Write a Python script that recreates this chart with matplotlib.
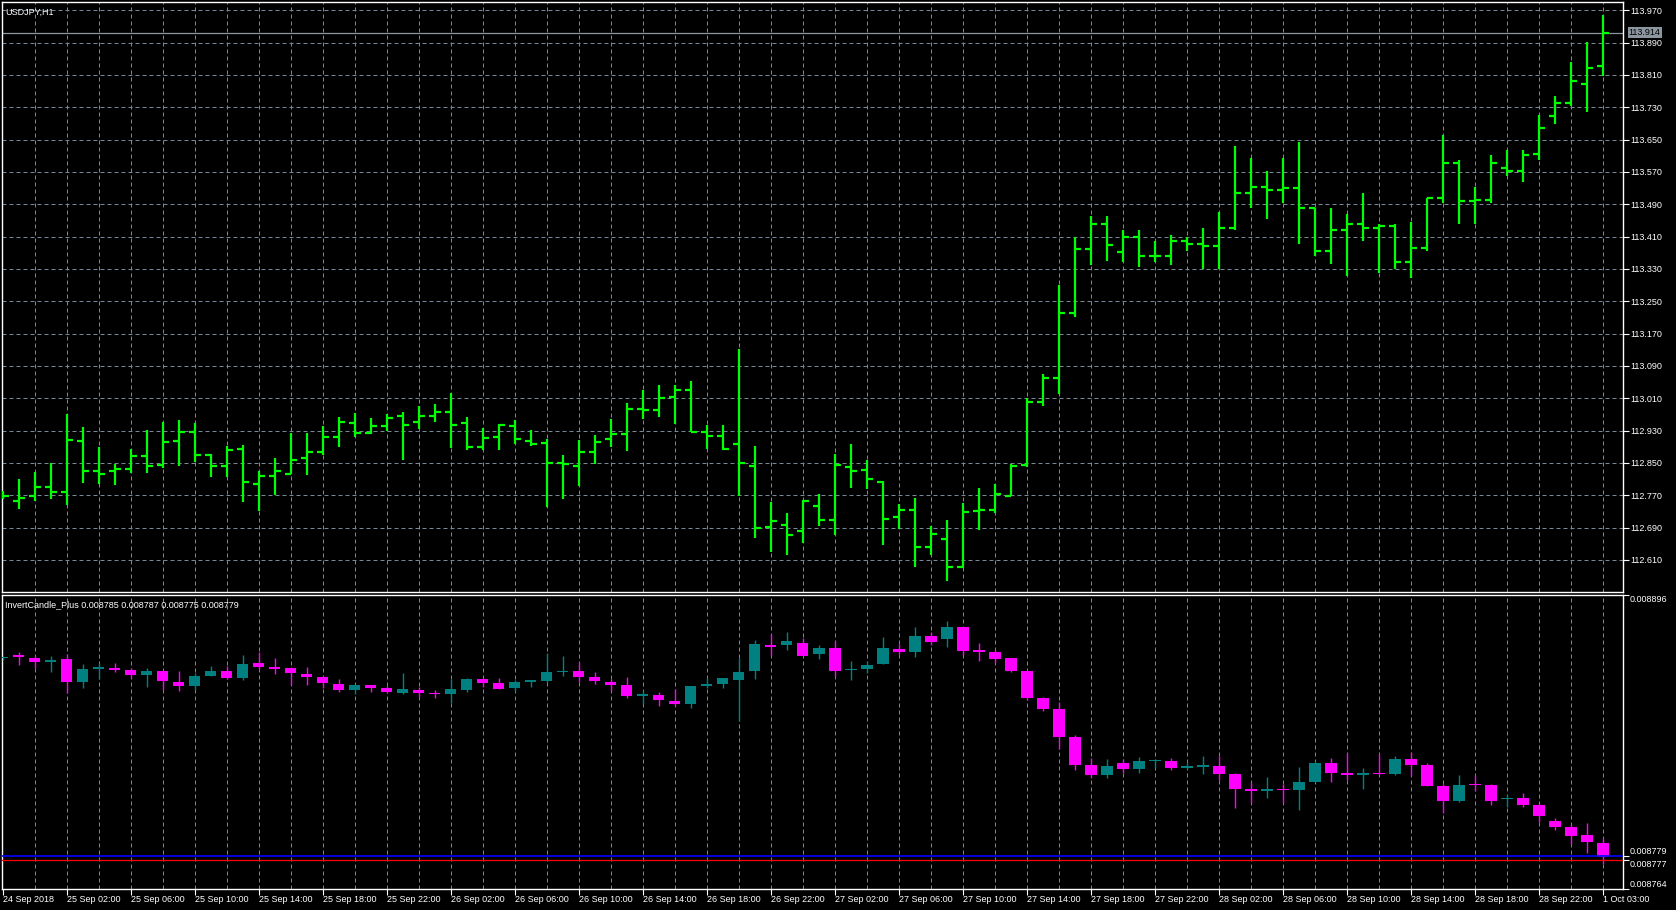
import matplotlib
matplotlib.use("Agg")
import matplotlib.pyplot as plt
import numpy as np

# USDJPY H1 bars, 24 Sep 2018 22:00 .. 1 Oct 2018 03:00
opens = [112.770, 112.757, 112.767, 112.791, 112.777, 112.905, 112.831, 112.829, 112.836, 112.867,
         112.845, 112.904, 112.927, 112.870, 112.843, 112.885, 112.798, 112.818, 112.823, 112.861,
         112.876, 112.915, 112.950, 112.925, 112.942, 112.967, 112.952, 112.967, 112.977, 112.950,
         112.890, 112.913, 112.941, 112.905, 112.899, 112.850, 112.843, 112.878, 112.908, 112.922,
         112.984, 112.981, 113.013, 113.031, 112.927, 112.917, 112.897, 112.842, 112.692, 112.696,
         112.682, 112.743, 112.709, 112.840, 112.833, 112.804, 112.715, 112.734, 112.643, 112.662,
         112.593, 112.731, 112.734, 112.768, 112.845, 113.000, 113.060, 113.220, 113.380, 113.440,
         113.371, 113.408, 113.361, 113.361, 113.400, 113.392, 113.387, 113.432, 113.519, 113.533,
         113.525, 113.530, 113.480, 113.374, 113.427, 113.440, 113.432, 113.435, 113.347, 113.382,
         113.506, 113.593, 113.498, 113.501, 113.580, 113.572, 113.615, 113.709, 113.741, 113.788,
         113.833]
highs = [112.780, 112.810, 112.828, 112.849, 112.971, 112.939, 112.890, 112.847, 112.885, 112.932,
         112.951, 112.956, 112.949, 112.871, 112.891, 112.894, 112.831, 112.862, 112.924, 112.924,
         112.942, 112.964, 112.974, 112.961, 112.971, 112.976, 112.991, 112.996, 113.024, 112.964,
         112.937, 112.946, 112.956, 112.932, 112.908, 112.869, 112.906, 112.918, 112.958, 112.998,
         113.030, 113.042, 113.042, 113.052, 112.943, 112.943, 113.131, 112.891, 112.753, 112.725,
         112.759, 112.772, 112.871, 112.896, 112.857, 112.805, 112.748, 112.764, 112.693, 112.708,
         112.750, 112.787, 112.797, 112.848, 113.011, 113.070, 113.290, 113.410, 113.460, 113.460,
         113.427, 113.427, 113.400, 113.414, 113.408, 113.432, 113.472, 113.633, 113.604, 113.572,
         113.604, 113.644, 113.480, 113.480, 113.467, 113.519, 113.440, 113.440, 113.445, 113.506,
         113.661, 113.599, 113.533, 113.612, 113.625, 113.625, 113.711, 113.758, 113.842, 113.891,
         113.959]
lows = [112.760, 112.737, 112.757, 112.760, 112.747, 112.801, 112.798, 112.796, 112.826, 112.824,
        112.838, 112.843, 112.853, 112.814, 112.816, 112.754, 112.732, 112.770, 112.822, 112.821,
        112.869, 112.890, 112.915, 112.921, 112.930, 112.857, 112.933, 112.951, 112.887, 112.883,
        112.883, 112.883, 112.896, 112.892, 112.741, 112.760, 112.792, 112.847, 112.889, 112.880,
        112.959, 112.964, 112.946, 112.927, 112.885, 112.883, 112.768, 112.664, 112.630, 112.623,
        112.652, 112.694, 112.672, 112.788, 112.786, 112.647, 112.687, 112.593, 112.621, 112.557,
        112.590, 112.685, 112.725, 112.768, 112.840, 112.990, 113.020, 113.210, 113.340, 113.350,
        113.347, 113.334, 113.347, 113.340, 113.374, 113.329, 113.329, 113.427, 113.480, 113.453,
        113.493, 113.392, 113.361, 113.342, 113.313, 113.400, 113.321, 113.329, 113.308, 113.374,
        113.493, 113.440, 113.440, 113.493, 113.559, 113.546, 113.600, 113.689, 113.733, 113.719,
        113.807]
closes = [112.767, 112.762, 112.791, 112.779, 112.907, 112.831, 112.823, 112.836, 112.867, 112.843,
          112.902, 112.927, 112.870, 112.843, 112.882, 112.803, 112.818, 112.829, 112.857, 112.878,
          112.913, 112.951, 112.925, 112.942, 112.962, 112.945, 112.967, 112.977, 112.945, 112.890,
          112.912, 112.945, 112.908, 112.897, 112.850, 112.847, 112.878, 112.902, 112.922, 112.984,
          112.981, 113.011, 113.031, 112.927, 112.917, 112.885, 112.850, 112.689, 112.707, 112.672,
          112.755, 112.709, 112.845, 112.830, 112.809, 112.712, 112.734, 112.643, 112.675, 112.593,
          112.729, 112.734, 112.774, 112.842, 113.000, 113.060, 113.220, 113.380, 113.440, 113.390,
          113.408, 113.361, 113.361, 113.400, 113.392, 113.387, 113.432, 113.519, 113.533, 113.525,
          113.530, 113.480, 113.374, 113.427, 113.440, 113.432, 113.435, 113.347, 113.382, 113.506,
          113.593, 113.498, 113.501, 113.593, 113.572, 113.612, 113.679, 113.741, 113.794, 113.828,
          113.914]

time_labels = ["24 Sep 2018", "25 Sep 02:00", "25 Sep 06:00", "25 Sep 10:00", "25 Sep 14:00",
               "25 Sep 18:00", "25 Sep 22:00", "26 Sep 02:00", "26 Sep 06:00", "26 Sep 10:00",
               "26 Sep 14:00", "26 Sep 18:00", "26 Sep 22:00", "27 Sep 02:00", "27 Sep 06:00",
               "27 Sep 10:00", "27 Sep 14:00", "27 Sep 18:00", "27 Sep 22:00", "28 Sep 02:00",
               "28 Sep 06:00", "28 Sep 10:00", "28 Sep 14:00", "28 Sep 18:00", "28 Sep 22:00",
               "1 Oct 03:00"]
price_ticks = [112.610, 112.690, 112.770, 112.850, 112.930, 113.010, 113.090, 113.170, 113.250,
               113.330, 113.410, 113.490, 113.570, 113.650, 113.730, 113.810, 113.890, 113.970]
bid = 113.914
ind_ticks = [0.008896, 0.008764]
ind_levels = [0.008779, 0.008777]

plt.rcParams['font.family'] = ['Liberation Sans', 'DejaVu Sans']
FS = 6.5
GRID = '#778899'

W, H = 1676, 910
fig = plt.figure(figsize=(W / 100, H / 100), dpi=100, facecolor='black')
ax1 = fig.add_axes([2 / W, 1 - 592 / H, 1621 / W, 590 / H])
ax2 = fig.add_axes([2 / W, 1 - 889 / H, 1621 / W, 294 / H])

x = np.arange(len(opens))
o = np.array(opens)
h = np.array(highs)
l = np.array(lows)
c = np.array(closes)

for ax in (ax1, ax2):
    ax.set_facecolor('black')
    ax.set_xlim(-0.06, 101.25)
    for s in ax.spines.values():
        s.set_color('white')
        s.set_linewidth(1.0)
    ax.tick_params(axis='y', which='both', left=False, right=True, labelleft=False,
                   labelright=True, colors='white', labelsize=FS, length=4, width=0.8, pad=1)
    for gx in range(2, 101, 2):
        ax.axvline(gx, color=GRID, lw=0.72, dashes=(4, 3), zorder=0)

# ---- price panel (OHLC bars) ----
ax1.set_ylim(112.5306, 113.9905)
for py in price_ticks:
    ax1.axhline(py, color=GRID, lw=0.72, dashes=(4, 3), zorder=0)
ax1.axhline(bid, color='#8c96a0', lw=0.9, zorder=1)
green = '#00ff00'
ax1.vlines(x, l, h, color=green, lw=1.6, zorder=3)
ax1.hlines(o, x - 0.38, x, color=green, lw=1.6, zorder=3)
ax1.hlines(c, x, x + 0.38, color=green, lw=1.6, zorder=3)
ax1.set_yticks(price_ticks)
ax1.set_yticklabels([f"{p:.3f}" for p in price_ticks])
ax1.set_xticks([])
ax1.text(1.0035, bid, f"{bid:.3f}", transform=ax1.get_yaxis_transform(),
         color='black', fontsize=FS, va='center', ha='left', zorder=5,
         bbox=dict(boxstyle='square,pad=0.12', fc='#8c96a0', ec='none'))
ax1.text(3 / 1621, 1 - 6 / 590, "USDJPY,H1", transform=ax1.transAxes, color='white',
         fontsize=FS, va='top', ha='left')

# ---- inverted candle panel ----
io, ih, il, ic = 1 / o, 1 / l, 1 / h, 1 / c
ax2.set_ylim(0.008764, 0.008896)
body_col = np.where(ic < io, '#ff00ff', '#008080')
min_h = 0.000132 / 294 * 1.5
body_h = np.maximum(np.abs(ic - io), min_h)
ax2.vlines(x, il, ih, colors=body_col, lw=1.0, zorder=3)
ax2.bar(x, body_h, bottom=np.minimum(io, ic), width=0.69, color=body_col, zorder=4)
ax2.axhline(ind_levels[0], color='#0000ff', lw=1.2, zorder=5)
ax2.axhline(ind_levels[1], color='#ff0000', lw=0.9, zorder=5)
ax2.set_yticks(ind_ticks + ind_levels)
ax2.set_yticklabels([f"{v:.6f}" for v in ind_ticks + ind_levels])
labs = ax2.get_yticklabels()
labs[0].set_va('top')
labs[1].set_va('bottom')
labs[2].set_va('bottom')
labs[3].set_va('top')
ax2.text(3 / 1621, 1 - 5 / 294, "InvertCandle_Plus 0.008785 0.008787 0.008775 0.008779",
         transform=ax2.transAxes, color='white', fontsize=FS, va='top', ha='left')

label_bars = list(range(0, 97, 4)) + [100]
ax2.set_xticks(label_bars)
ax2.set_xticklabels(time_labels, ha='left')
ax2.tick_params(axis='x', colors='white', labelsize=FS, length=4, width=0.8, pad=0)

fig.savefig('out.png', dpi=100, facecolor='black')
